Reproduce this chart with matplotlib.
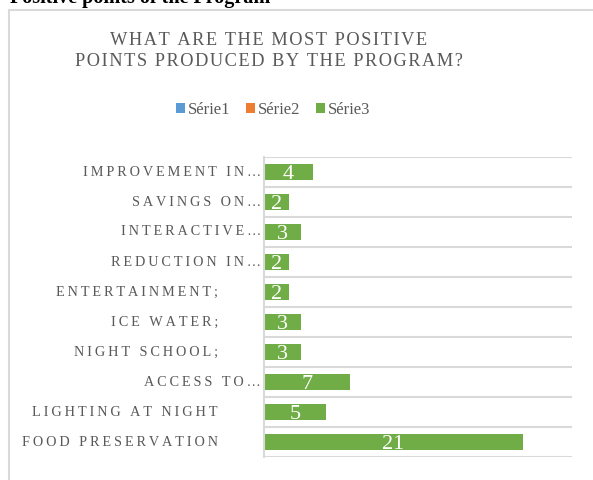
import matplotlib.pyplot as plt
import matplotlib.transforms as mtransforms
from matplotlib.patches import Patch, Rectangle

# categories from bottom to top, as drawn
categories = ['FOOD PRESERVATION', 'LIGHTING AT NIGHT', 'ACCESS TO…', 'NIGHT SCHOOL;',
              'ICE WATER;', 'ENTERTAINMENT;', 'REDUCTION IN…', 'INTERACTIVE…',
              'SAVINGS ON…', 'IMPROVEMENT IN…']
serie3 = [21, 5, 7, 3, 3, 2, 2, 3, 2, 4]
series_names = ['Série1', 'Série2', 'Série3']
series_colors = ['#5B9BD5', '#ED7D31', '#70AD47']
chart_title = 'WHAT ARE THE MOST POSITIVE\nPOINTS PRODUCED BY THE PROGRAM?'

plt.rcParams['font.family'] = ['Liberation Serif', 'DejaVu Serif']
gray = '#595959'


def tracked(s, sep='\u200a'):
    # Excel style letter spacing
    return '\n'.join(sep.join(line) for line in s.split('\n'))


fig = plt.figure(figsize=(5.93, 4.8), dpi=100)

# page heading, partly cut off at the top
fig.text(10 / 593, 1 - 3 / 480, 'Positive points of the Program', fontsize=14.5,
         fontweight='bold', color='black', va='baseline', ha='left')

# chart frame
fig.patches.append(Rectangle((9 / 593, -0.1), 1.2, 1 - 10 / 480 + 0.1,
                             transform=fig.transFigure, fill=False,
                             edgecolor='#D9D9D9', lw=1.5))

fig.text(269 / 593, 1 - 51 / 480, tracked(chart_title),
         ha='center', va='center', fontsize=13.2, color=gray, linespacing=1.25)

handles = [Patch(facecolor=c, edgecolor='none') for c in series_colors]
fig.legend(handles, series_names, loc='center', bbox_to_anchor=(273 / 593, 1 - 110 / 480),
           ncol=3, frameon=False, fontsize=12, labelcolor=gray, handlelength=0.55,
           handleheight=0.55, handletextpad=0.2, columnspacing=0.9)

ax = fig.add_axes([264 / 593, 1 - 457 / 480, 308 / 593, 300 / 480])
ypos = list(range(len(categories)))
bars = ax.barh(ypos, serie3, height=0.55, color=series_colors[2])
for b, v in zip(bars, serie3):
    ax.text(b.get_width() / 2, b.get_y() + b.get_height() / 2, str(v),
            ha='center', va='center_baseline', color='white', fontsize=16)

ax.set_xlim(0, 25)
ax.set_ylim(-0.5, len(categories) - 0.5)
ax.set_yticks(ypos)
ax.set_yticklabels([])
# category labels; full labels sit further from the axis than the truncated ones
ytrans = ax.get_yaxis_transform()
for y, c in zip(ypos, categories):
    shift = -3 if c.endswith('…') else -46
    t = ytrans + mtransforms.ScaledTranslation(shift / 100, 0, fig.dpi_scale_trans)
    ax.text(0, y, tracked(c, '\u2009'), transform=t, ha='right', va='center',
            fontsize=10.3, color=gray)
ax.set_yticks([i - 0.5 for i in range(len(categories) + 1)], minor=True)
ax.tick_params(axis='y', which='both', length=0)
ax.set_xticks([])
ax.grid(True, axis='y', which='minor', color='#D9D9D9', lw=1.5)
ax.set_axisbelow(True)
for s in ['top', 'right', 'bottom']:
    ax.spines[s].set_visible(False)
ax.spines['left'].set_color('#D9D9D9')
ax.spines['left'].set_linewidth(1.5)

fig.savefig('out.png', dpi=100)
